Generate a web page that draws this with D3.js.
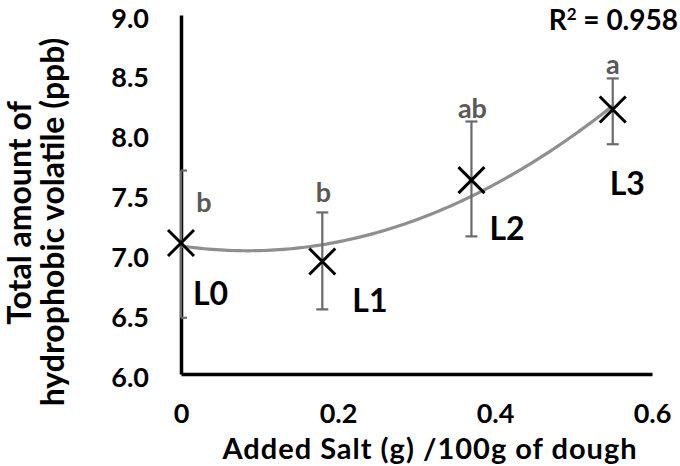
<!DOCTYPE html>
<html><head><meta charset="utf-8">
<script src="https://cdn.jsdelivr.net/npm/d3@7"></script>
<style>body{margin:0;background:#fff}svg{display:block}text{font-family:Lato,"Open Sans",sans-serif;font-weight:bold}</style>
</head><body><svg id="c" width="680" height="466"></svg>
<script>
const labels = ["L0","L1","L2","L3"];
const salt = [0, 0.18, 0.37, 0.55];
const volatile = [7.095, 6.94, 7.62, 8.21];
const errTop = [7.70, 7.35, 8.11, 8.47];
const errBottom = [6.47, 6.54, 7.15, 7.92];
const letters = ["b","b","ab","a"];
const trendCoef = [7.07, -0.95, 5.6];
const xTicks = [0, 0.2, 0.4, 0.6];
const xTickLabels = ["0","0.2","0.4","0.6"];
const yTicks = [6.0, 6.5, 7.0, 7.5, 8.0, 8.5, 9.0];

const svg = d3.select("#c");
const x = d3.scaleLinear().domain([0, 0.6]).range([181, 652]);
const y = d3.scaleLinear().domain([6, 9]).range([374, 15]);

// axes
const gy = svg.append("g").attr("transform","translate(181,0)")
  .call(d3.axisLeft(y).tickValues(yTicks).tickFormat(d3.format(".1f")).tickSize(0).tickPadding(32));
const gx = svg.append("g").attr("transform","translate(0,374)")
  .call(d3.axisBottom(x).tickValues(xTicks).tickFormat((d,i)=>xTickLabels[i]).tickSize(0).tickPadding(30.3));
[gx, gy].forEach(g=>{
  g.select(".domain").attr("stroke","#000").attr("stroke-width",3.5);
  g.selectAll("text").attr("font-size",27).attr("fill","#000").style("font-family","Lato,sans-serif").style("font-weight","bold");
});
gy.selectAll("text").attr("dy","0.45em");

// trendline
const tx = d3.range(0, 0.5501, 0.005);
const poly = v => trendCoef[0] + trendCoef[1]*v + trendCoef[2]*v*v;
svg.append("path").datum(tx)
  .attr("d", d3.line().x(d=>x(d)).y(d=>y(poly(d))))
  .attr("fill","none").attr("stroke","#8f8f8f").attr("stroke-width",3.2);

// error bars
const eb = svg.append("g").attr("stroke","#6a6a6a").attr("stroke-width",2.2);
salt.forEach((s,i)=>{
  const cx = x(s);
  eb.append("line").attr("x1",cx).attr("x2",cx).attr("y1",y(errTop[i])).attr("y2",y(errBottom[i]));
  [errTop[i], errBottom[i]].forEach(v=>{
    eb.append("line").attr("x1",cx-(i===0?0:6)).attr("x2",cx+6).attr("y1",y(v)).attr("y2",y(v));
  });
});

// markers
const mk = svg.append("g").attr("stroke","#000").attr("stroke-width",3);
salt.forEach((s,i)=>{
  const cx = x(s), cy = y(volatile[i]), r = 13;
  mk.append("path").attr("d",`M${cx-r},${cy-r}L${cx+r},${cy+r}M${cx-r},${cy+r}L${cx+r},${cy-r}`);
});

// significance letters
const letterPos = [[23,-41.5],[1,-70.5],[1,-72.5],[0,-46.5]];
salt.forEach((s,i)=>{
  svg.append("text").attr("x", x(s)+letterPos[i][0]).attr("y", y(volatile[i])+letterPos[i][1])
    .attr("text-anchor","middle").attr("dominant-baseline","central")
    .attr("font-size",27).attr("fill","#595959").text(letters[i]);
});

// level labels
const labPos = [[12,50],[30,38],[18,47],[-3,73]];
salt.forEach((s,i)=>{
  svg.append("text").attr("x", x(s)+labPos[i][0]).attr("y", y(volatile[i])+labPos[i][1])
    .attr("text-anchor","start").attr("dominant-baseline","central")
    .attr("font-size",32).attr("fill","#000").text(labels[i]);
});

// R2
const r2 = svg.append("text").attr("x",678).attr("y",29.5).attr("text-anchor","end")
  .attr("font-size",28).attr("fill","#000");
r2.append("tspan").text("R");
r2.append("tspan").attr("font-size",17).attr("dy",-10).text("2");
r2.append("tspan").attr("dy",10).text(" = 0.958");

// axis titles
svg.append("text").attr("x",430).attr("y",458.5).attr("text-anchor","middle")
  .attr("font-size",29).attr("letter-spacing",1).attr("fill","#000").text("Added Salt (g) /100g of dough");
svg.append("text").attr("transform","translate(31,213) rotate(-90)").attr("text-anchor","middle")
  .attr("font-size",32).attr("fill","#000").text("Total amount of");
svg.append("text").attr("transform","translate(64,222) rotate(-90)").attr("text-anchor","middle")
  .attr("font-size",32).attr("fill","#000").text("hydrophobic volatile (ppb)");
</script></body></html>
